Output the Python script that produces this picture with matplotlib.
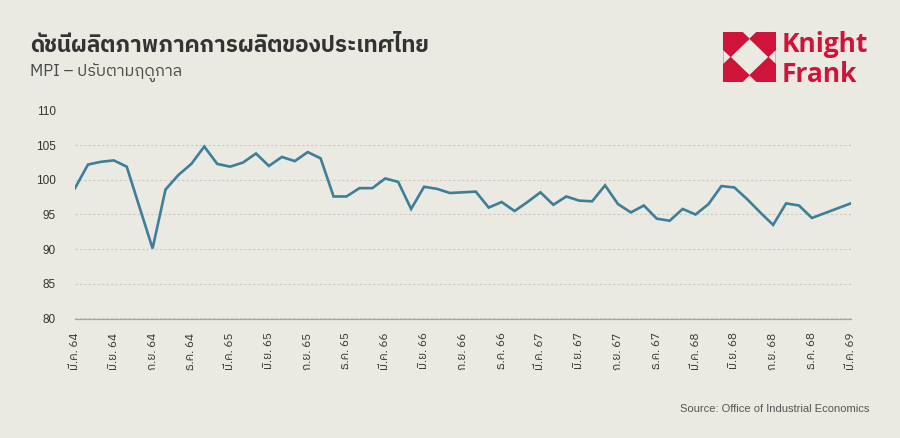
import matplotlib
matplotlib.use('Agg')
import matplotlib.pyplot as plt
from matplotlib import font_manager
from matplotlib.ft2font import FT2Font
from matplotlib.patches import Polygon, Rectangle

# MPI, seasonally adjusted, monthly from Mar 2564 to Mar 2569
mpi = [98.8, 102.2, 102.6, 102.8, 101.9, 96.0, 90.1, 98.6, 100.7, 102.3,
       104.8, 102.3, 101.9, 102.5, 103.8, 102.0, 103.3, 102.7, 104.0, 103.1,
       97.6, 97.6, 98.8, 98.8, 100.2, 99.7, 95.8, 99.0, 98.7, 98.1,
       98.2, 98.3, 96.0, 96.8, 95.5, 96.8, 98.2, 96.4, 97.6, 97.0,
       96.9, 99.2, 96.5, 95.3, 96.3, 94.4, 94.1, 95.8, 95.0, 96.5,
       99.1, 98.9, 97.2, 95.3, 93.5, 96.6, 96.3, 94.5, 95.2, 95.9, 96.6]

tick_labels = ['มี.ค. 64', 'มิ.ย. 64', 'ก.ย. 64', 'ธ.ค. 64',
               'มี.ค. 65', 'มิ.ย. 65', 'ก.ย. 65', 'ธ.ค. 65',
               'มี.ค. 66', 'มิ.ย. 66', 'ก.ย. 66', 'ธ.ค. 66',
               'มี.ค. 67', 'มิ.ย. 67', 'ก.ย. 67', 'ธ.ค. 67',
               'มี.ค. 68', 'มิ.ย. 68', 'ก.ย. 68', 'ธ.ค. 68',
               'มี.ค. 69']
y_ticks = [80, 85, 90, 95, 100, 105, 110]

title = 'ดัชนีผลิตภาพภาคการผลิตของประเทศไทย'
subtitle = 'MPI – ปรับตามฤดูกาล'
source = 'Source: Office of Industrial Economics'


# find an installed font that has Thai glyphs
def has_thai(path):
    try:
        return 0x0E14 in FT2Font(path).get_charmap()
    except Exception:
        return False

thai_fonts = sorted({f.name for f in font_manager.fontManager.ttflist if has_thai(f.fname)})
thai_fonts.sort(key=lambda n: (('Thai' not in n), ('Looped' in n), n))
thai = [thai_fonts[0]] if thai_fonts else []
fam = thai + ['Liberation Sans', 'DejaVu Sans']

bg = '#eae9e2'
red = '#cf1339'
W, H = 900, 438

fig = plt.figure(figsize=(9, 4.38), dpi=100, facecolor=bg)
ax = fig.add_axes([75 / W, 1 - 318.5 / H, 775.7 / W, 208 / H])
ax.set_facecolor(bg)

x = list(range(len(mpi)))
ax.plot(x, mpi, color='#3d7f98', lw=1.9, solid_joinstyle='miter')

ax.set_xlim(0, len(mpi) - 1)
ax.set_ylim(80, 110)
ax.set_yticks(y_ticks)
ax.set_yticklabels([str(v) for v in y_ticks], family='Liberation Sans', fontsize=8.5, color='#333333')
ax.set_xticks(x[::3])
ax.set_xticklabels(tick_labels, rotation=90, family=fam, fontsize=8.5, color='#333333', va='top')
ax.tick_params(axis='y', length=0, pad=14)
ax.tick_params(axis='x', length=0, pad=10)
ax.grid(axis='y', linestyle=(0, (2, 2)), color='#cbc9bf', lw=0.8)
ax.grid(axis='x', visible=False)
for s in ['top', 'right', 'left']:
    ax.spines[s].set_visible(False)
ax.spines['bottom'].set_color('#a3a3a0')
ax.spines['bottom'].set_linewidth(0.9)

fig.text(30 / W, 1 - 52 / H, title, family=fam, fontsize=16.2, fontweight='bold', color='#333333', va='baseline')
fig.text(30 / W, 1 - 76 / H, subtitle, family=fam, fontsize=11.8, color='#4a4a4a', va='baseline')
fig.text(869 / W, 1 - 412 / H, source, family='Liberation Sans', fontsize=8, color='#555555', ha='right', va='baseline')

# Knight Frank logo: red square with a white centre diamond and side notches
lax = fig.add_axes([723.3 / W, 1 - 82.3 / H, 52.4 / W, 50.6 / H])
lax.set_xlim(0, 1)
lax.set_ylim(0, 1)
lax.axis('off')
lax.add_patch(Rectangle((0, 0), 1, 1, color=red, lw=0))
r, n = 0.355, 0.135
lax.add_patch(Polygon([(0.5 - r, 0.5), (0.5, 0.5 + r), (0.5 + r, 0.5), (0.5, 0.5 - r)], color=bg, lw=0))
for pts in [[(0.5 - n, 1), (0.5 + n, 1), (0.5, 1 - n)],
            [(0.5 - n, 0), (0.5 + n, 0), (0.5, n)],
            [(0, 0.5 - n), (0, 0.5 + n), (n, 0.5)],
            [(1, 0.5 - n), (1, 0.5 + n), (1 - n, 0.5)]]:
    lax.add_patch(Polygon(pts, color=bg, lw=0))
fig.text(782 / W, 1 - 52 / H, 'Knight', family='Open Sans', fontweight='bold', fontsize=19, color=red, va='baseline')
fig.text(782 / W, 1 - 82 / H, 'Frank', family='Open Sans', fontweight='bold', fontsize=19, color=red, va='baseline')

fig.savefig('out.png', dpi=100, facecolor=bg)
